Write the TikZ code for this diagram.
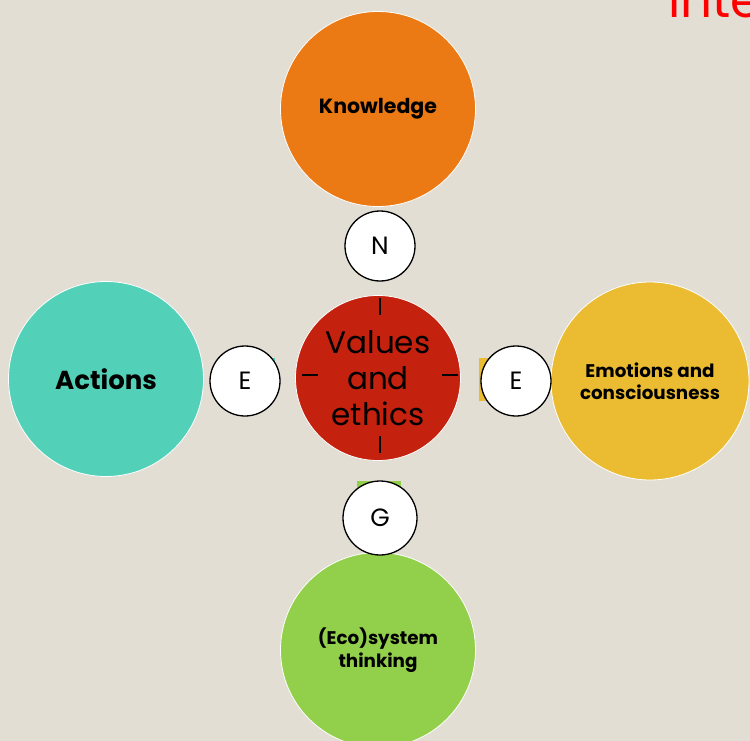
\documentclass[tikz,border=0pt]{standalone}
\usepackage{fontspec}
\setmainfont{Poppins}
\definecolor{bg}{HTML}{E3DED3}
\definecolor{corange}{HTML}{EB7A14}
\definecolor{cteal}{HTML}{52D1B8}
\definecolor{cyellow}{HTML}{EBBC32}
\definecolor{cgreen}{HTML}{92CF4B}
\definecolor{cred}{HTML}{C4210F}
\definecolor{ctitle}{HTML}{FF0000}
\begin{document}
\begin{tikzpicture}[x=1pt,y=-1pt,
  bigc/.style={circle,draw=white,line width=0.8pt,minimum size=195pt,inner sep=0pt,align=center,font=\bfseries},
  smallc/.style={circle,draw=black,line width=1.3pt,fill=white,minimum size=70pt,inner sep=0pt,font=\fontsize{25}{25}\selectfont},
  tick/.style={line width=1.3pt}]
\useasboundingbox (0,0) rectangle (750,741);
\clip (0,0) rectangle (750,741);
\fill[bg] (0,0) rectangle (750,741);
\node[anchor=base west,text=ctitle,inner sep=0pt,font=\fontsize{50}{50}\selectfont] (title) at (668,18) {Inte};
% remnant rectangles
\fill[corange] (358,262) rectangle (402,275);
\fill[cteal] (220,358) rectangle (275,370);
\fill[cyellow] (479,358) rectangle (500,401);
\fill[cgreen] (357,481) rectangle (401,498);
% big circles
\node[bigc,fill=corange,font=\bfseries\fontsize{20.5}{24}\selectfont] (know) at (378,109) {Knowledge};
\node[bigc,fill=cteal,font=\bfseries\fontsize{26}{30}\selectfont] (act) at (106,379) {Actions};
\node[bigc,fill=cyellow,minimum size=198pt,font=\bfseries\fontsize{18.3}{22}\selectfont] (emo) at (650,381) {Emotions and\\consciousness};
\node[bigc,fill=cgreen,font=\bfseries\fontsize{18.3}{23}\selectfont] (eco) at (378,650) {(Eco)system\\thinking};
\node[bigc,fill=cred,minimum size=165pt,font=\fontsize{31}{36}\selectfont] (val) at (378,378) {Values\\and\\ethics};
% ticks
\draw[tick] ([xshift=2pt,yshift=-75pt]val.center) -- ([xshift=2pt,yshift=-58pt]val.center);
\draw[tick] ([xshift=2pt,yshift=63pt]val.center) -- ([xshift=2pt,yshift=80pt]val.center);
\draw[tick] ([xshift=-76pt,yshift=3pt]val.center) -- ([xshift=-60pt,yshift=3pt]val.center);
\draw[tick] ([xshift=64pt,yshift=3pt]val.center) -- ([xshift=80pt,yshift=3pt]val.center);
% small circles
\node[smallc] (n) at (380,246) {N};
\node[smallc] (el) at (245,381) {E};
\node[smallc] (er) at (516,381) {E};
\node[smallc,minimum size=74pt] (g) at (380,518) {G};
\end{tikzpicture}
\end{document}
